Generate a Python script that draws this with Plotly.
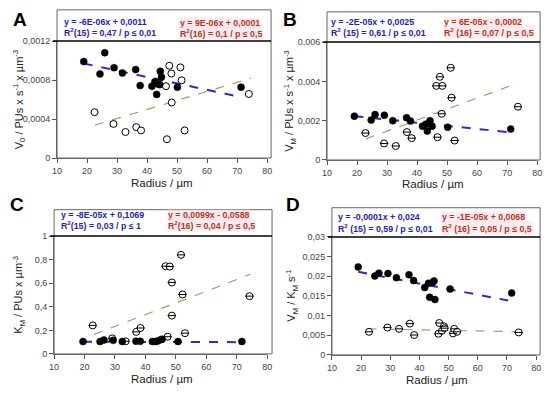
import plotly.graph_objects as go

W, H = 550, 395

# ---------------- data ----------------
x_ticks = [10, 20, 30, 40, 50, 60, 70, 80]
x_ticklabels = ["10", "20", "30", "40", "50", "60", "70", "80"]

# Panel A
a_fill_x = [18.9, 25.9, 24.3, 29.0, 31.8, 36.2, 37.7, 41.6, 42.6, 43.2, 44.2, 44.4, 44.8, 43.6, 50.1, 71.3]
a_fill_y = [0.00099, 0.00108, 0.000863, 0.000927, 0.000873, 0.000907, 0.000743, 0.000737, 0.000783,
            0.000653, 0.000753, 0.00089, 0.00083, 0.00076, 0.000727, 0.000727]
a_open_x = [22.5, 28.8, 32.8, 36.4, 38.0, 46.6, 46.3, 47.4, 48.1, 48.2, 51.1, 51.5, 52.5, 73.9]
a_open_y = [0.00047, 0.00035, 0.000267, 0.000317, 0.000283, 0.000193, 0.000737, 0.000947, 0.000867,
            0.00057, 0.00093, 0.000797, 0.000283, 0.000657]
a_blue_x, a_blue_y = [18.9, 71.0], [0.00097, 0.000627]
a_brown_x, a_brown_y = [22.6, 74.7], [0.000337, 0.00082]
a_yticks = [0, 0.0004, 0.0008, 0.0012]
a_yticklabels = ["0", "0,0004", "0,0008", "0,0012"]

# Panel B
b_fill_x = [19.1, 24.7, 26.0, 29.1, 31.9, 36.5, 37.8, 41.8, 42.9, 43.4, 44.3, 45.0, 50.2, 71.2]
b_fill_y = [0.00223, 0.00203, 0.00231, 0.00228, 0.00200, 0.00215, 0.00198, 0.00172, 0.00182,
            0.00147, 0.00200, 0.00172, 0.00167, 0.00157]
b_open_x = [22.8, 29.0, 32.9, 36.6, 38.2, 46.8, 46.4, 47.6, 48.4, 48.2, 51.2, 51.5, 52.5, 73.6]
b_open_y = [0.00137, 0.00084, 0.00071, 0.00142, 0.00111, 0.00116, 0.00377, 0.00423, 0.00377,
            0.00235, 0.00469, 0.00317, 0.00099, 0.00271]
b_blue_x, b_blue_y = [19.1, 71.3], [0.00223, 0.00140]
b_brown_x, b_brown_y = [22.9, 73.7], [0.00107, 0.00392]
b_yticks = [0, 0.002, 0.004, 0.006]
b_yticklabels = ["0", "0,002", "0,004", "0,006"]

# Panel C
c_fill_x = [19.5, 25.1, 26.4, 29.4, 32.4, 36.9, 38.3, 42.3, 43.4, 44.0, 45.0, 45.5, 50.7, 71.7]
c_fill_y = [0.105, 0.105, 0.118, 0.115, 0.105, 0.108, 0.108, 0.105, 0.105, 0.11, 0.12, 0.125, 0.105, 0.105]
c_open_x = [22.7, 29.1, 33.5, 37.0, 38.4, 47.3, 46.6, 48.0, 48.7, 48.7, 51.7, 52.2, 53.0, 74.2]
c_open_y = [0.242, 0.132, 0.107, 0.187, 0.220, 0.146, 0.744, 0.741, 0.606, 0.325, 0.840, 0.504, 0.176, 0.490]
c_blue_x, c_blue_y = [19.5, 71.7], [0.103, 0.100]
c_brown_x, c_brown_y = [23.1, 74.4], [0.165, 0.675]
c_yticks = [0, 0.2, 0.4, 0.6, 0.8, 1]
c_yticklabels = ["0", "0,2", "0,4", "0,6", "0,8", "1"]

# Panel D
d_fill_x = [19.0, 24.7, 26.1, 29.2, 32.1, 36.4, 38.0, 41.8, 43.1, 43.5, 44.5, 45.0, 45.3, 50.5, 71.6]
d_fill_y = [0.02238, 0.02006, 0.0208, 0.0207, 0.01964, 0.02039, 0.0189, 0.01715, 0.01823, 0.01467,
            0.0184, 0.01881, 0.01409, 0.01674, 0.01575]
d_open_x = [22.7, 29.0, 33.0, 36.7, 38.2, 46.5, 46.8, 47.7, 48.4, 48.6, 51.5, 51.9, 52.9, 74.0]
d_open_y = [0.00588, 0.00696, 0.00663, 0.00796, 0.00506, 0.00539, 0.00812, 0.00613, 0.00729, 0.0068,
            0.00547, 0.00663, 0.00588, 0.00572]
d_blue_x, d_blue_y = [19.0, 70.4], [0.02113, 0.01384]
d_brown_x, d_brown_y = [22.2, 75.5], [0.00663, 0.00588]
d_yticks = [0, 0.005, 0.01, 0.015, 0.02, 0.025, 0.03]
d_yticklabels = ["0", "0,005", "0,01", "0,015", "0,02", "0,025", "0,03"]

panels = [
    dict(letter="A", fx=a_fill_x, fy=a_fill_y, ox=a_open_x, oy=a_open_y,
         bx=a_blue_x, by=a_blue_y, rx=a_brown_x, ry=a_brown_y,
         yt=a_yticks, ytl=a_yticklabels, ymax=0.0012, minus=False,
         ytitle="V<sub>0</sub> / PUs x s<sup>-1</sup> x µm<sup>-3</sup>",
         blue=["y = -6E-06x + 0,0011", "R<sup>2</sup>(15) = 0,47 / p ≤ 0,01"],
         red=["y = 9E-06x + 0,0001", "R<sup>2</sup>(16) = 0,1 / p ≤ 0,5"],
         geo=dict(xl=53, x80=267, right=271, ytop=37, y0=157, boxtop=5,
                  lx=15, ly=15, bx=59, by=17, rxp=177, ryp=18, tx=160, ty=183, yx=14)),
    dict(letter="B", fx=b_fill_x, fy=b_fill_y, ox=b_open_x, oy=b_open_y,
         bx=b_blue_x, by=b_blue_y, rx=b_brown_x, ry=b_brown_y,
         yt=b_yticks, ytl=b_yticklabels, ymax=0.006, minus=True,
         ytitle="V<sub>M</sub> / PUs x s<sup>-1</sup> x µm<sup>-3</sup>",
         blue=["y = -2E-05x + 0,0025", "R<sup>2</sup> (15) = 0,61 / p ≤ 0,01"],
         red=["y = 6E-05x - 0,0002", "R<sup>2</sup> (16) = 0,07 / p ≤ 0,5"],
         geo=dict(xl=328, x80=542, right=545, ytop=38, y0=159, boxtop=7,
                  lx=290, ly=15, bx=331, by=17, rxp=446, ryp=17, tx=436, ty=184, yx=290)),
    dict(letter="C", fx=c_fill_x, fy=c_fill_y, ox=c_open_x, oy=c_open_y,
         bx=c_blue_x, by=c_blue_y, rx=c_brown_x, ry=c_brown_y,
         yt=c_yticks, ytl=c_yticklabels, ymax=1.0, minus=True,
         ytitle="K<sub>M</sub> / PUs x µm<sup>-3</sup>",
         blue=["y = -8E-05x + 0,1069", "R<sup>2</sup>(15) = 0,03 / p ≤ 1"],
         red=["y = 0,0099x - 0,0588", "R<sup>2</sup>(16) = 0,04 / p ≤ 0,5"],
         geo=dict(xl=50, x80=267, right=272, ytop=237, y0=358, boxtop=210,
                  lx=12, ly=205, bx=56, by=215, rxp=165, ryp=215, tx=160, ty=384, yx=14)),
    dict(letter="D", fx=d_fill_x, fy=d_fill_y, ox=d_open_x, oy=d_open_y,
         bx=d_blue_x, by=d_blue_y, rx=d_brown_x, ry=d_brown_y,
         yt=d_yticks, ytl=d_yticklabels, ymax=0.03, minus=True,
         ytitle="V<sub>M</sub> / K<sub>M</sub> s<sup>-1</sup>",
         blue=["y = -0,0001x + 0,024", "R<sup>2</sup> (15) = 0,59 / p ≤ 0,01"],
         red=["y = -1E-05x + 0,0068", "R<sup>2</sup> (16) = 0,05 / p ≤ 0,5"],
         geo=dict(xl=333, x80=541, right=545, ytop=238, y0=359, boxtop=208,
                  lx=293, ly=205, bx=338, by=218, rxp=444, ryp=218, tx=440, ty=385, yx=292)),
]

def px(x):
    return x / W

def py(y):
    return 1 - y / H

BLUE_TXT = "#2424b4"
RED_TXT = "#b0381e"
FONT = "Liberation Sans"
EQ_SIZE = 8.8

fig = go.Figure()
layout = dict(width=W, height=H, margin=dict(l=0, r=0, t=0, b=0),
              paper_bgcolor="white", plot_bgcolor="white", showlegend=False)
shapes = []
annotations = []

for i, p in enumerate(panels):
    n = "" if i == 0 else str(i + 1)
    xa, ya = "x" + n, "y" + n
    g = p["geo"]
    layout["xaxis" + n] = dict(domain=[px(g["xl"]), px(g["x80"])], range=[10, 80], anchor=ya,
                               tickvals=x_ticks, ticktext=x_ticklabels, ticks="outside", ticklen=4,
                               tickcolor="#555", showline=True, linecolor="#666", linewidth=1,
                               showgrid=False, zeroline=False,
                               tickfont=dict(family=FONT, size=9, color="#444"))
    layout["yaxis" + n] = dict(domain=[py(g["y0"]), py(g["ytop"])], range=[0, p["ymax"]], anchor=xa,
                               tickvals=p["yt"], ticktext=p["ytl"], ticks="outside", ticklen=4,
                               tickcolor="#555", showline=True, linecolor="#666", linewidth=1,
                               showgrid=False, zeroline=False,
                               tickfont=dict(family=FONT, size=9, color="#444"))
    # trend lines
    fig.add_trace(go.Scatter(x=p["rx"], y=p["ry"], mode="lines", xaxis=xa, yaxis=ya,
                             line=dict(color="#b88a60", width=1.1, dash="dash")))
    fig.add_trace(go.Scatter(x=p["bx"], y=p["by"], mode="lines", xaxis=xa, yaxis=ya,
                             line=dict(color="#2a2ad0", width=2, dash="dash")))
    # open markers
    fig.add_trace(go.Scatter(x=p["ox"], y=p["oy"], mode="markers", xaxis=xa, yaxis=ya,
                             marker=dict(symbol="circle", size=7, color="white",
                                         line=dict(color="black", width=1))))
    if p["minus"]:
        fig.add_trace(go.Scatter(x=p["ox"], y=p["oy"], mode="markers", xaxis=xa, yaxis=ya,
                                 marker=dict(symbol="line-ew", size=6, color="black",
                                             line=dict(color="black", width=1))))
    # filled markers
    fig.add_trace(go.Scatter(x=p["fx"], y=p["fy"], mode="markers", xaxis=xa, yaxis=ya,
                             marker=dict(symbol="circle", size=7, color="black",
                                         line=dict(color="black", width=0.5))))
    # frame around header box + plot
    shapes.append(dict(type="rect", xref="paper", yref="paper",
                       x0=px(g["xl"]), x1=px(g["right"]), y0=py(g["y0"]), y1=py(g["boxtop"]),
                       line=dict(color="#666", width=1), fillcolor="rgba(0,0,0,0)", layer="below"))
    shapes.append(dict(type="line", xref="paper", yref="paper",
                       x0=px(g["xl"] - 4), x1=px(g["right"]), y0=py(g["ytop"]), y1=py(g["ytop"]),
                       line=dict(color="black", width=1.6)))
    # panel letter
    annotations.append(dict(text="<b>%s</b>" % p["letter"], xref="paper", yref="paper",
                            x=px(g["lx"]), y=py(g["ly"]), xanchor="center", yanchor="middle",
                            showarrow=False, font=dict(family=FONT, size=19, color="black")))
    # equations
    for k in range(2):
        annotations.append(dict(text="<b>%s</b>" % p["blue"][k], xref="paper", yref="paper",
                                x=px(g["bx"]), y=py(g["by"] + 10.5 * k), xanchor="left", yanchor="middle",
                                showarrow=False, borderpad=0,
                                font=dict(family=FONT, size=EQ_SIZE, color=BLUE_TXT)))
        annotations.append(dict(text="<b>%s</b>" % p["red"][k], xref="paper", yref="paper",
                                x=px(g["rxp"]), y=py(g["ryp"] + 10.5 * k), xanchor="left", yanchor="middle",
                                showarrow=False, bgcolor="rgba(255,218,228,0.5)", borderpad=0,
                                font=dict(family=FONT, size=EQ_SIZE, color=RED_TXT)))
    # axis titles
    annotations.append(dict(text="Radius / µm", xref="paper", yref="paper",
                            x=px(g["tx"]), y=py(g["ty"]), xanchor="center", yanchor="middle",
                            showarrow=False, font=dict(family=FONT, size=11.5, color="#222")))
    annotations.append(dict(text=p["ytitle"], xref="paper", yref="paper", textangle=-90,
                            x=px(g["yx"]), y=py((g["ytop"] + g["y0"]) / 2), xanchor="center",
                            yanchor="middle", showarrow=False,
                            font=dict(family=FONT, size=11, color="#222")))

layout["shapes"] = shapes
layout["annotations"] = annotations
fig.update_layout(**layout)
fig.write_html("out.html", config={"displayModeBar": False},
               post_script="document.body.style.margin='0';document.body.style.padding='0';")
